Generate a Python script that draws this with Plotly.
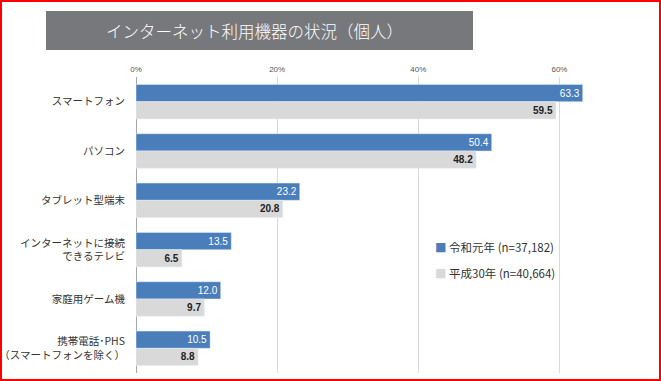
import plotly.graph_objects as go

categories = ["スマートフォン", "パソコン", "タブレット型端末",
              "インターネットに接続<br>できるテレビ", "家庭用ゲーム機",
              "携帯電話･PHS<br>（スマートフォンを除く）"]
reiwa1 = [63.3, 50.4, 23.2, 13.5, 12.0, 10.5]
heisei30 = [59.5, 48.2, 20.8, 6.5, 9.7, 8.8]
series_names = ["令和元年 (n=37,182)", "平成30年 (n=40,664)"]
x_ticks = [0, 20, 40, 60]
x_tick_labels = ["0%", "20%", "40%", "60%"]
title_text = "インターネット利用機器の状況（個人）"

W, H = 661, 381
ML, MR, MT, MB = 136, 31, 77, 8
PW, PH = W - ML - MR, H - MT - MB

def px_x(v):
    return (v - ML) / PW

def px_y(v):
    return 1 - (v - MT) / PH

FONT = "Noto Sans CJK JP, Noto Sans, sans-serif"
BLUE = "#4A7EBB"
GREY = "#D9D9D9"
COLORS = [BLUE, GREY]

fig = go.Figure()
fig.add_trace(go.Bar(
    y=categories, x=reiwa1, orientation="h", name=series_names[0],
    marker=dict(color=BLUE), showlegend=False,
    text=[f"{v:.1f}" for v in reiwa1], textposition="inside",
    insidetextanchor="end", textfont=dict(color="white", size=10, family="Arial"),
))
fig.add_trace(go.Bar(
    y=categories, x=heisei30, orientation="h", name=series_names[1],
    marker=dict(color=GREY), showlegend=False,
    text=[f"<b>{v:.1f}</b>" for v in heisei30], textposition="inside",
    insidetextanchor="end", textfont=dict(color="#222222", size=10, family="Arial"),
))

legend_ann = []
for i, (nm, col) in enumerate(zip(series_names, COLORS)):
    legend_ann.append(dict(
        text=f"<span style='color:{col}'>■</span> {nm}",
        xref="paper", yref="paper", x=px_x(433), y=px_y(247 + 26 * i),
        xanchor="left", yanchor="middle", showarrow=False,
        font=dict(size=11.5, color="#333333", family=FONT),
    ))

fig.update_layout(
    width=W, height=H,
    margin=dict(l=ML, r=MR, t=MT, b=MB, autoexpand=False),
    paper_bgcolor="white", plot_bgcolor="white",
    barmode="group", bargap=0.3, bargroupgap=0.0,
    font=dict(family=FONT, color="#333333"),
    uniformtext=dict(minsize=10, mode="show"),
    showlegend=False,
    xaxis=dict(
        side="top", range=[0, 70], tickmode="array", tickvals=x_ticks,
        ticktext=x_tick_labels, automargin=False,
        tickfont=dict(size=8, color="#555555", family="Arial"),
        showgrid=True, gridcolor="#D9D9D9", gridwidth=1,
        zeroline=True, zerolinecolor="#A6A6A6", zerolinewidth=1,
        showline=False, fixedrange=True, ticklabelstandoff=2,
    ),
    yaxis=dict(
        autorange="reversed", tickfont=dict(size=10.5, color="#333333"),
        ticklabelstandoff=10, showgrid=False, fixedrange=True, automargin=False,
    ),
    shapes=[
        dict(type="rect", xref="paper", yref="paper",
             x0=px_x(46), x1=px_x(473), y0=px_y(11), y1=px_y(50),
             fillcolor="#77787B", line=dict(width=0), layer="below"),
        dict(type="rect", xref="paper", yref="paper",
             x0=px_x(1), x1=px_x(660), y0=px_y(1), y1=px_y(380),
             fillcolor="rgba(0,0,0,0)", line=dict(color="#FF0000", width=2)),
    ],
    annotations=[
        dict(text=title_text, xref="paper", yref="paper",
             x=px_x(254), y=px_y(30.5), xanchor="center", yanchor="middle",
             showarrow=False,
             font=dict(size=16.5, color="#FFFFFF", family=FONT, weight=300)),
    ] + legend_ann,
)

fig.write_html("out.html", post_script="document.body.style.margin='0';",
               config={"displayModeBar": False})
